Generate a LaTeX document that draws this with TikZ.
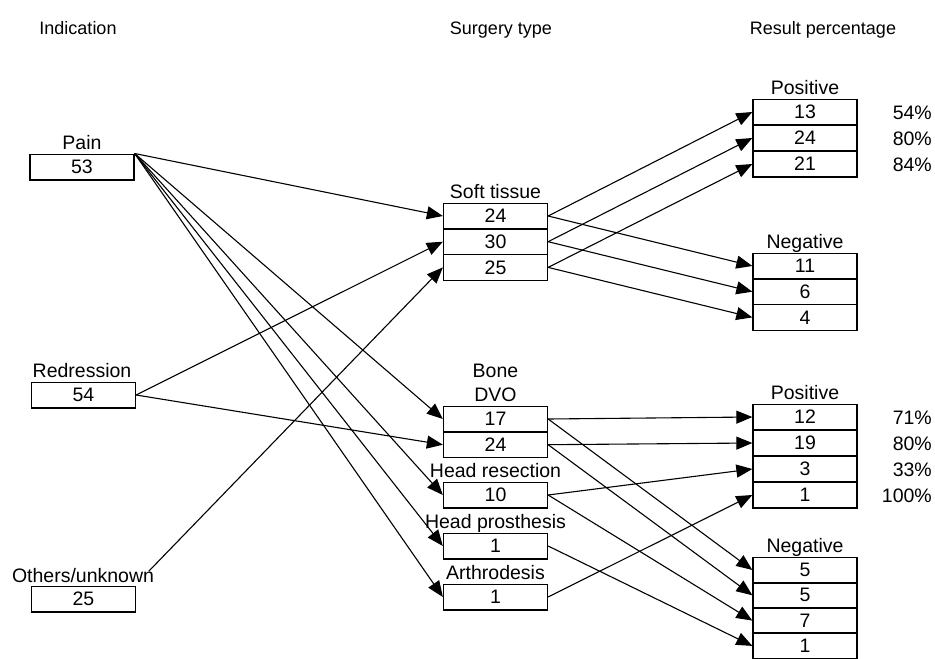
\documentclass[tikz,border=0pt]{standalone}
\usepackage{fontspec}
\setmainfont{Liberation Sans}
\usetikzlibrary{arrows.meta}
\begin{document}
\begin{tikzpicture}[x=1pt,y=-1pt,
  cell/.style={draw, line width=1.3pt, minimum width=104pt, minimum height=25.7pt, inner sep=0pt, font=\fontsize{19.5}{19.5}\selectfont},
  lab/.style={anchor=base, inner sep=0pt, font=\fontsize{19.5}{19.5}\selectfont},
  hdr/.style={anchor=base, inner sep=0pt, font=\fontsize{18}{18}\selectfont},
  pct/.style={anchor=east, inner sep=0pt, font=\fontsize{19.5}{19.5}\selectfont},
  link/.style={line width=1.1pt, -{Triangle[length=16pt,width=13pt]}}
]
\useasboundingbox (0,0) rectangle (935,659);

% headers
\node[hdr] (h1) at (78,34) {Indication};
\node[hdr] (h2) at (501,34) {Surgery type};
\node[hdr] (h3) at (823,34) {Result percentage};

% indication
\node[lab] (painlab) at (82,149) {Pain};
\node[cell] (pain) at (82,167) {53};
\node[lab] (redrlab) at (82,377) {Redression};
\node[cell] (redr) at (83.5,395) {54};
\node[lab] (othlab) at (83,582) {Others/unknown};
\node[cell] (oth) at (83.5,599) {25};
\coordinate (othstart) at (149,571);

% surgery type
\node[lab] (stlab) at (495.5,198) {Soft tissue};
\node[cell] (st1) at (495.5,216) {24};
\node[cell] (st2) at (495.5,241.7) {30};
\node[cell] (st3) at (495.5,267.4) {25};
\node[lab] (bonelab) at (495.5,377) {Bone};
\node[lab] (dvolab) at (495.5,401) {DVO};
\node[cell] (d1) at (495.5,419) {17};
\node[cell] (d2) at (495.5,444.7) {24};
\node[lab] (hrlab) at (495.5,477) {Head resection};
\node[cell] (hr) at (495.5,495) {10};
\node[lab] (hplab) at (495.5,528) {Head prosthesis};
\node[cell] (hp) at (495.5,546) {1};
\node[lab] (arlab) at (495.5,579) {Arthrodesis};
\node[cell] (ar) at (495.5,597) {1};

% results
\node[lab] (p0) at (805,94) {Positive};
\node[cell] (p1) at (805,112) {13};
\node[cell] (p2) at (805,138) {24};
\node[cell] (p3) at (805,164) {21};
\node[lab] (n0) at (805,248) {Negative};
\node[cell] (n1) at (805,266) {11};
\node[cell] (n2) at (805,291.7) {6};
\node[cell] (n3) at (805,317.4) {4};
\node[lab] (q0) at (805,399) {Positive};
\node[cell] (q1) at (805,417) {12};
\node[cell] (q2) at (805,443) {19};
\node[cell] (q3) at (805,469) {3};
\node[cell] (q4) at (805,495) {1};
\node[lab] (m0) at (805,552) {Negative};
\node[cell] (m1) at (805,570) {5};
\node[cell] (m2) at (805,595.3) {5};
\node[cell] (m3) at (805,620.6) {7};
\node[cell] (m4) at (805,645.9) {1};

% percentages
\node[pct] (pc1) at (932,113) {54\%};
\node[pct] (pc2) at (932,139) {80\%};
\node[pct] (pc3) at (932,165) {84\%};
\node[pct] (pc4) at (932,418) {71\%};
\node[pct] (pc5) at (932,444) {80\%};
\node[pct] (pc6) at (932,470) {33\%};
\node[pct] (pc7) at (932,496) {100\%};

% indication -> surgery
\draw[link] (pain.north east) -- (st1.west);
\draw[link] (pain.north east) -- (d1.west);
\draw[link] (pain.north east) -- (hr.west);
\draw[link] (pain.north east) -- (hp.west);
\draw[link] (pain.north east) -- (ar.west);
\draw[link] (redr.east) -- (st2.west);
\draw[link] (redr.east) -- (d2.west);
\draw[link] (othstart) -- (st3.west);

% surgery -> results
\draw[link] (st1.east) -- (p1.west);
\draw[link] (st1.east) -- (n1.west);
\draw[link] (st2.east) -- (p2.west);
\draw[link] (st2.east) -- (n2.west);
\draw[link] (st3.east) -- (p3.west);
\draw[link] (st3.east) -- (n3.west);
\draw[link] (d1.east) -- (q1.west);
\draw[link] (d1.east) -- (m1.west);
\draw[link] (d2.east) -- (q2.west);
\draw[link] (d2.east) -- (m2.west);
\draw[link] (hr.east) -- (q3.west);
\draw[link] (hr.east) -- (m3.west);
\draw[link] (hp.east) -- (m4.west);
\draw[link] (ar.east) -- (q4.west);
\end{tikzpicture}
\end{document}
